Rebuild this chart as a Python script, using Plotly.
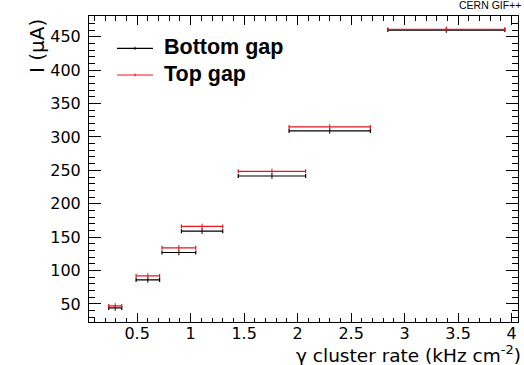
import plotly.graph_objects as go

# Measured current vs gamma cluster rate for the two gaps
rate = [0.295, 0.60, 0.89, 1.107, 1.76, 2.30, 3.39]
rate_err = [0.061, 0.11, 0.158, 0.193, 0.315, 0.38, 0.547]
bottom_gap = [44, 86, 127, 159, 241.5, 309, 460]
top_gap = [47, 92, 134, 166, 248.5, 315, 461]

series = [("Bottom gap", bottom_gap, "black"), ("Top gap", top_gap, "#e8141c")]

W, H = 524, 365
L, R, T, B = 89, 6, 16, 43
X_RANGE = [0.05, 4.06]
Y_RANGE = [23, 481]

fig = go.Figure()
for name, vals, col in series:
    fig.add_trace(go.Scatter(
        x=rate, y=vals, name=name, mode="markers", showlegend=False,
        marker=dict(symbol="line-ns", size=4, line=dict(width=1, color=col), color=col),
        error_x=dict(type="data", array=rate_err, color=col, thickness=1.2, width=2),
    ))
# empty trace so the top/right tick axes are drawn
fig.add_trace(go.Scatter(x=[None], y=[None], xaxis="x2", yaxis="y2",
                         showlegend=False, hoverinfo="skip"))

tick_font = dict(family="DejaVu Sans", size=16, color="black")
axis_common = dict(
    showgrid=False, zeroline=False, showline=True, linecolor="black", linewidth=1,
    ticks="inside", tickcolor="black", tickwidth=1, tickfont=tick_font,
)
x_ticks = dict(range=X_RANGE, tick0=0, dtick=0.5, ticklen=9,
               minor=dict(dtick=0.1, ticklen=4.5, ticks="inside", tickcolor="black"))
y_ticks = dict(range=Y_RANGE, tick0=0, dtick=50, ticklen=12,
               minor=dict(dtick=10, ticklen=6, ticks="inside", tickcolor="black"))

fig.update_layout(
    xaxis=dict(**axis_common, **x_ticks, mirror=True, ticklabelstandoff=-3),
    yaxis=dict(**axis_common, **y_ticks, mirror=True, ticklabelstandoff=4),
    xaxis2=dict(**axis_common, **x_ticks, overlaying="x", side="top", anchor="y2",
                showticklabels=False),
    yaxis2=dict(**axis_common, **y_ticks, overlaying="y", side="right", anchor="x2",
                showticklabels=False),
)

pw, ph = W - L - R, H - T - B


def px_x(p):
    return (p - L) / pw


def px_y(p):
    return (H - B - p) / ph


shapes = []
annotations = []
# legend entries drawn as short lines with a centre tick
for (name, _, col), ly in zip(series, [48.3, 75.0]):
    shapes.append(dict(type="line", xref="paper", yref="paper",
                       x0=px_x(117), x1=px_x(153), y0=px_y(ly), y1=px_y(ly),
                       line=dict(color=col, width=1.2)))
    shapes.append(dict(type="line", xref="paper", yref="paper",
                       x0=px_x(135), x1=px_x(135), y0=px_y(ly - 1.5), y1=px_y(ly + 1.5),
                       line=dict(color=col, width=1)))
    annotations.append(dict(text="<b>%s</b>" % name, xref="paper", yref="paper",
                            x=px_x(162), y=px_y(ly - 1), xanchor="left", yanchor="middle",
                            showarrow=False,
                            font=dict(family="Liberation Sans", size=21.5, color="black")))

annotations.append(dict(text="CERN GIF++", xref="paper", yref="paper",
                        x=px_x(523), y=px_y(5), xanchor="right", yanchor="middle",
                        showarrow=False,
                        font=dict(family="Liberation Sans", size=10.5, color="black")))
annotations.append(dict(text="γ cluster rate (kHz cm<sup>-2</sup>)", xref="paper", yref="paper",
                        x=px_x(523), y=px_y(354), xanchor="right", yanchor="middle",
                        showarrow=False,
                        font=dict(family="DejaVu Sans", size=18.5, color="black")))
annotations.append(dict(text="I (μA)", xref="paper", yref="paper", textangle=-90,
                        x=px_x(37), y=px_y(46), xanchor="center", yanchor="middle",
                        showarrow=False,
                        font=dict(family="DejaVu Sans", size=20, color="black")))

fig.update_layout(
    width=W, height=H, margin=dict(l=L, r=R, t=T, b=B),
    paper_bgcolor="white", plot_bgcolor="white",
    shapes=shapes, annotations=annotations, showlegend=False,
)

fig.write_html("out.html")
